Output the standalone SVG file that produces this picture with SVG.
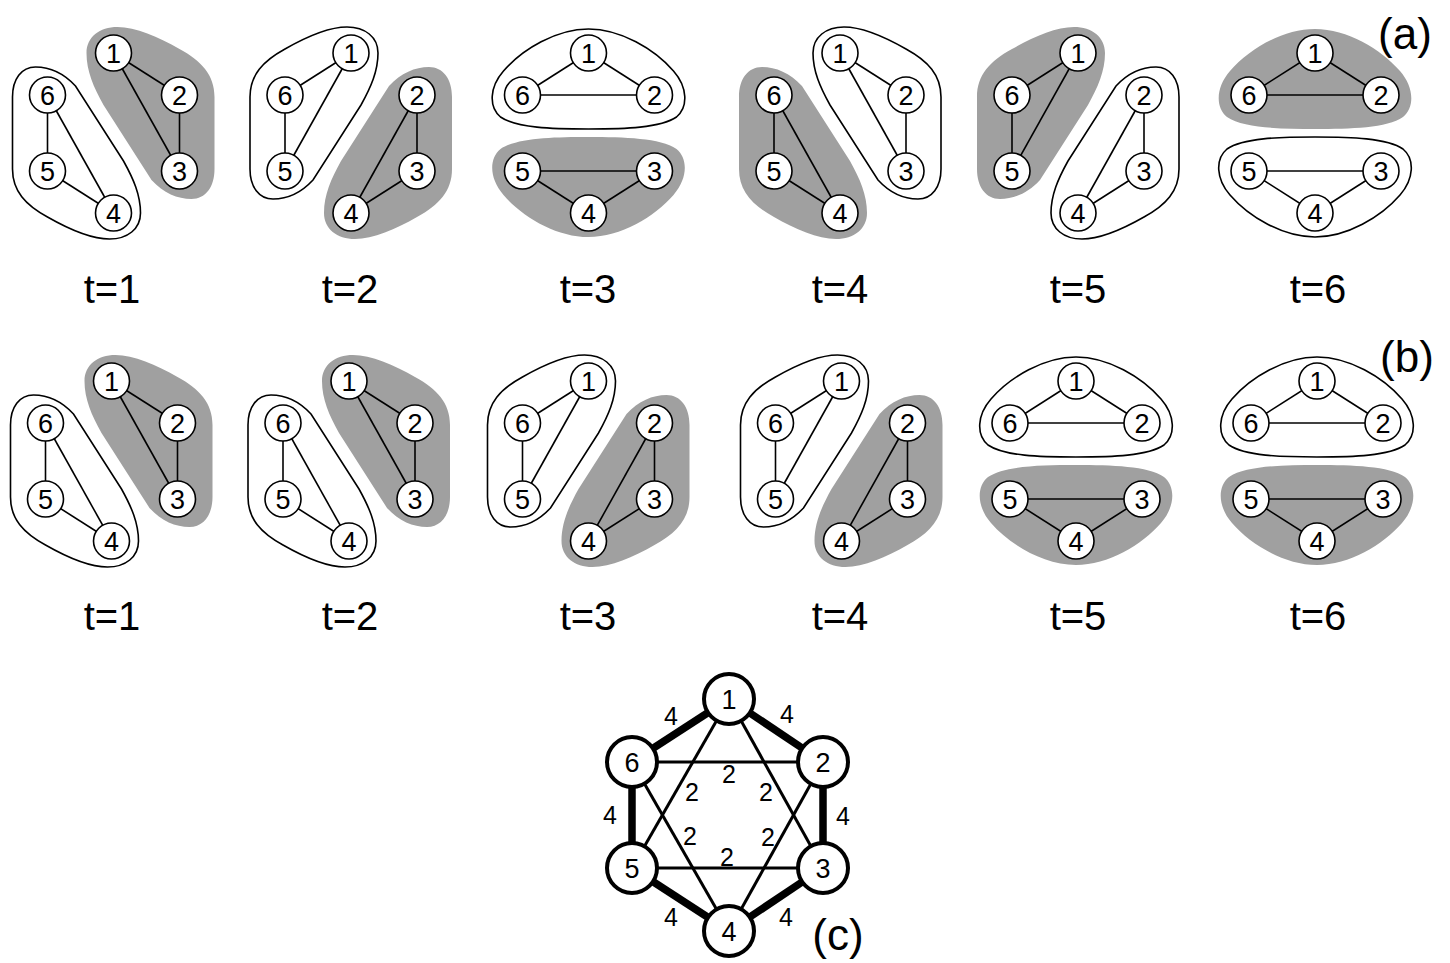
<svg xmlns="http://www.w3.org/2000/svg" xmlns:xlink="http://www.w3.org/1999/xlink" width="1450" height="963" viewBox="0 0 1450 963">
<style>
.w{fill:#fff;stroke:#000;stroke-width:1.6}
.g{fill:#a0a0a0;stroke:none}
.e line{stroke:#000;stroke-width:1.6}
.n circle{fill:#fff;stroke:#000;stroke-width:1.6}
text{font-family:"Liberation Sans",Arial,sans-serif;fill:#000;text-anchor:middle}
.n text{font-size:27px}
.t{font-size:40px}
.p{font-size:44px}
.c circle{fill:#fff;stroke:#000;stroke-width:4}
.c text{font-size:27px}
.tk{stroke:#000;stroke-width:7.5}
.tn{stroke:#000;stroke-width:3}
.lb{font-size:25px}
</style>
<defs>
<path id="bA" d="M -78,-66 C -92,-66 -101,-54 -101,-36 L -101,36 C -101,58 -88,72 -66,84 C -45,96 -22,106 -4,106 C 14,106 27,96 27,80 C 27,62 20,46 10,28 L -38,-47 C -50,-60 -64,-66 -78,-66 Z"/>
<path id="bC" d="M 0,-104 C 32,-104 66,-84 85,-62 C 99,-46 100,-26 88,-16 C 72,-5 36,-4 0,-4 C -36,-4 -72,-5 -88,-16 C -100,-26 -99,-46 -85,-62 C -66,-84 -32,-104 0,-104 Z"/>
</defs>
<rect width="1450" height="963" fill="#fff"/>

<!-- Row (a) -->
<g id="a1" transform="translate(113.5,133)">
<use href="#bA" class="w"/><use href="#bA" class="g" transform="rotate(180)"/>
<g class="e"><line x1="-66" y1="-38" x2="-66" y2="38"/><line x1="-66" y1="-38" x2="0" y2="80"/><line x1="-66" y1="38" x2="0" y2="80"/><line x1="0" y1="-80" x2="66" y2="-38"/><line x1="0" y1="-80" x2="66" y2="38"/><line x1="66" y1="-38" x2="66" y2="38"/></g>
<g id="a1n1" class="n"><circle cx="0" cy="-80" r="18"/><text x="0" y="-70.3">1</text></g>
<g id="a1n2" class="n"><circle cx="66" cy="-38" r="18"/><text x="66" y="-28.3">2</text></g>
<g id="a1n3" class="n"><circle cx="66" cy="38" r="18"/><text x="66" y="47.7">3</text></g>
<g id="a1n4" class="n"><circle cx="0" cy="80" r="18"/><text x="0" y="89.7">4</text></g>
<g id="a1n5" class="n"><circle cx="-66" cy="38" r="18"/><text x="-66" y="47.7">5</text></g>
<g id="a1n6" class="n"><circle cx="-66" cy="-38" r="18"/><text x="-66" y="-28.3">6</text></g>
</g>
<g id="a2" transform="translate(351,133)">
<use href="#bA" class="w" transform="scale(1,-1)"/><use href="#bA" class="g" transform="scale(-1,1)"/>
<g class="e"><line x1="0" y1="-80" x2="-66" y2="-38"/><line x1="0" y1="-80" x2="-66" y2="38"/><line x1="-66" y1="-38" x2="-66" y2="38"/><line x1="66" y1="-38" x2="66" y2="38"/><line x1="66" y1="-38" x2="0" y2="80"/><line x1="66" y1="38" x2="0" y2="80"/></g>
<g id="a2n1" class="n"><circle cx="0" cy="-80" r="18"/><text x="0" y="-70.3">1</text></g>
<g id="a2n2" class="n"><circle cx="66" cy="-38" r="18"/><text x="66" y="-28.3">2</text></g>
<g id="a2n3" class="n"><circle cx="66" cy="38" r="18"/><text x="66" y="47.7">3</text></g>
<g id="a2n4" class="n"><circle cx="0" cy="80" r="18"/><text x="0" y="89.7">4</text></g>
<g id="a2n5" class="n"><circle cx="-66" cy="38" r="18"/><text x="-66" y="47.7">5</text></g>
<g id="a2n6" class="n"><circle cx="-66" cy="-38" r="18"/><text x="-66" y="-28.3">6</text></g>
</g>
<g id="a3" transform="translate(588.5,133)">
<use href="#bC" class="w"/><use href="#bC" class="g" transform="scale(1,-1)"/>
<g class="e"><line x1="0" y1="-80" x2="-66" y2="-38"/><line x1="0" y1="-80" x2="66" y2="-38"/><line x1="-66" y1="-38" x2="66" y2="-38"/><line x1="-66" y1="38" x2="66" y2="38"/><line x1="-66" y1="38" x2="0" y2="80"/><line x1="66" y1="38" x2="0" y2="80"/></g>
<g id="a3n1" class="n"><circle cx="0" cy="-80" r="18"/><text x="0" y="-70.3">1</text></g>
<g id="a3n2" class="n"><circle cx="66" cy="-38" r="18"/><text x="66" y="-28.3">2</text></g>
<g id="a3n3" class="n"><circle cx="66" cy="38" r="18"/><text x="66" y="47.7">3</text></g>
<g id="a3n4" class="n"><circle cx="0" cy="80" r="18"/><text x="0" y="89.7">4</text></g>
<g id="a3n5" class="n"><circle cx="-66" cy="38" r="18"/><text x="-66" y="47.7">5</text></g>
<g id="a3n6" class="n"><circle cx="-66" cy="-38" r="18"/><text x="-66" y="-28.3">6</text></g>
</g>
<g id="a4" transform="translate(840,133)">
<use href="#bA" class="g"/><use href="#bA" class="w" transform="rotate(180)"/>
<g class="e"><line x1="-66" y1="-38" x2="-66" y2="38"/><line x1="-66" y1="-38" x2="0" y2="80"/><line x1="-66" y1="38" x2="0" y2="80"/><line x1="0" y1="-80" x2="66" y2="-38"/><line x1="0" y1="-80" x2="66" y2="38"/><line x1="66" y1="-38" x2="66" y2="38"/></g>
<g id="a4n1" class="n"><circle cx="0" cy="-80" r="18"/><text x="0" y="-70.3">1</text></g>
<g id="a4n2" class="n"><circle cx="66" cy="-38" r="18"/><text x="66" y="-28.3">2</text></g>
<g id="a4n3" class="n"><circle cx="66" cy="38" r="18"/><text x="66" y="47.7">3</text></g>
<g id="a4n4" class="n"><circle cx="0" cy="80" r="18"/><text x="0" y="89.7">4</text></g>
<g id="a4n5" class="n"><circle cx="-66" cy="38" r="18"/><text x="-66" y="47.7">5</text></g>
<g id="a4n6" class="n"><circle cx="-66" cy="-38" r="18"/><text x="-66" y="-28.3">6</text></g>
</g>
<g id="a5" transform="translate(1078,133)">
<use href="#bA" class="g" transform="scale(1,-1)"/><use href="#bA" class="w" transform="scale(-1,1)"/>
<g class="e"><line x1="0" y1="-80" x2="-66" y2="-38"/><line x1="0" y1="-80" x2="-66" y2="38"/><line x1="-66" y1="-38" x2="-66" y2="38"/><line x1="66" y1="-38" x2="66" y2="38"/><line x1="66" y1="-38" x2="0" y2="80"/><line x1="66" y1="38" x2="0" y2="80"/></g>
<g id="a5n1" class="n"><circle cx="0" cy="-80" r="18"/><text x="0" y="-70.3">1</text></g>
<g id="a5n2" class="n"><circle cx="66" cy="-38" r="18"/><text x="66" y="-28.3">2</text></g>
<g id="a5n3" class="n"><circle cx="66" cy="38" r="18"/><text x="66" y="47.7">3</text></g>
<g id="a5n4" class="n"><circle cx="0" cy="80" r="18"/><text x="0" y="89.7">4</text></g>
<g id="a5n5" class="n"><circle cx="-66" cy="38" r="18"/><text x="-66" y="47.7">5</text></g>
<g id="a5n6" class="n"><circle cx="-66" cy="-38" r="18"/><text x="-66" y="-28.3">6</text></g>
</g>
<g id="a6" transform="translate(1315,133)">
<use href="#bC" class="g"/><use href="#bC" class="w" transform="scale(1,-1)"/>
<g class="e"><line x1="0" y1="-80" x2="-66" y2="-38"/><line x1="0" y1="-80" x2="66" y2="-38"/><line x1="-66" y1="-38" x2="66" y2="-38"/><line x1="-66" y1="38" x2="66" y2="38"/><line x1="-66" y1="38" x2="0" y2="80"/><line x1="66" y1="38" x2="0" y2="80"/></g>
<g id="a6n1" class="n"><circle cx="0" cy="-80" r="18"/><text x="0" y="-70.3">1</text></g>
<g id="a6n2" class="n"><circle cx="66" cy="-38" r="18"/><text x="66" y="-28.3">2</text></g>
<g id="a6n3" class="n"><circle cx="66" cy="38" r="18"/><text x="66" y="47.7">3</text></g>
<g id="a6n4" class="n"><circle cx="0" cy="80" r="18"/><text x="0" y="89.7">4</text></g>
<g id="a6n5" class="n"><circle cx="-66" cy="38" r="18"/><text x="-66" y="47.7">5</text></g>
<g id="a6n6" class="n"><circle cx="-66" cy="-38" r="18"/><text x="-66" y="-28.3">6</text></g>
</g>

<!-- Row (b) -->
<g id="b1" transform="translate(111.5,461)">
<use href="#bA" class="w"/><use href="#bA" class="g" transform="rotate(180)"/>
<g class="e"><line x1="-66" y1="-38" x2="-66" y2="38"/><line x1="-66" y1="-38" x2="0" y2="80"/><line x1="-66" y1="38" x2="0" y2="80"/><line x1="0" y1="-80" x2="66" y2="-38"/><line x1="0" y1="-80" x2="66" y2="38"/><line x1="66" y1="-38" x2="66" y2="38"/></g>
<g id="b1n1" class="n"><circle cx="0" cy="-80" r="18"/><text x="0" y="-70.3">1</text></g>
<g id="b1n2" class="n"><circle cx="66" cy="-38" r="18"/><text x="66" y="-28.3">2</text></g>
<g id="b1n3" class="n"><circle cx="66" cy="38" r="18"/><text x="66" y="47.7">3</text></g>
<g id="b1n4" class="n"><circle cx="0" cy="80" r="18"/><text x="0" y="89.7">4</text></g>
<g id="b1n5" class="n"><circle cx="-66" cy="38" r="18"/><text x="-66" y="47.7">5</text></g>
<g id="b1n6" class="n"><circle cx="-66" cy="-38" r="18"/><text x="-66" y="-28.3">6</text></g>
</g>
<g id="b2" transform="translate(349,461)">
<use href="#bA" class="w"/><use href="#bA" class="g" transform="rotate(180)"/>
<g class="e"><line x1="-66" y1="-38" x2="-66" y2="38"/><line x1="-66" y1="-38" x2="0" y2="80"/><line x1="-66" y1="38" x2="0" y2="80"/><line x1="0" y1="-80" x2="66" y2="-38"/><line x1="0" y1="-80" x2="66" y2="38"/><line x1="66" y1="-38" x2="66" y2="38"/></g>
<g id="b2n1" class="n"><circle cx="0" cy="-80" r="18"/><text x="0" y="-70.3">1</text></g>
<g id="b2n2" class="n"><circle cx="66" cy="-38" r="18"/><text x="66" y="-28.3">2</text></g>
<g id="b2n3" class="n"><circle cx="66" cy="38" r="18"/><text x="66" y="47.7">3</text></g>
<g id="b2n4" class="n"><circle cx="0" cy="80" r="18"/><text x="0" y="89.7">4</text></g>
<g id="b2n5" class="n"><circle cx="-66" cy="38" r="18"/><text x="-66" y="47.7">5</text></g>
<g id="b2n6" class="n"><circle cx="-66" cy="-38" r="18"/><text x="-66" y="-28.3">6</text></g>
</g>
<g id="b3" transform="translate(588.5,461)">
<use href="#bA" class="w" transform="scale(1,-1)"/><use href="#bA" class="g" transform="scale(-1,1)"/>
<g class="e"><line x1="0" y1="-80" x2="-66" y2="-38"/><line x1="0" y1="-80" x2="-66" y2="38"/><line x1="-66" y1="-38" x2="-66" y2="38"/><line x1="66" y1="-38" x2="66" y2="38"/><line x1="66" y1="-38" x2="0" y2="80"/><line x1="66" y1="38" x2="0" y2="80"/></g>
<g id="b3n1" class="n"><circle cx="0" cy="-80" r="18"/><text x="0" y="-70.3">1</text></g>
<g id="b3n2" class="n"><circle cx="66" cy="-38" r="18"/><text x="66" y="-28.3">2</text></g>
<g id="b3n3" class="n"><circle cx="66" cy="38" r="18"/><text x="66" y="47.7">3</text></g>
<g id="b3n4" class="n"><circle cx="0" cy="80" r="18"/><text x="0" y="89.7">4</text></g>
<g id="b3n5" class="n"><circle cx="-66" cy="38" r="18"/><text x="-66" y="47.7">5</text></g>
<g id="b3n6" class="n"><circle cx="-66" cy="-38" r="18"/><text x="-66" y="-28.3">6</text></g>
</g>
<g id="b4" transform="translate(841.5,461)">
<use href="#bA" class="w" transform="scale(1,-1)"/><use href="#bA" class="g" transform="scale(-1,1)"/>
<g class="e"><line x1="0" y1="-80" x2="-66" y2="-38"/><line x1="0" y1="-80" x2="-66" y2="38"/><line x1="-66" y1="-38" x2="-66" y2="38"/><line x1="66" y1="-38" x2="66" y2="38"/><line x1="66" y1="-38" x2="0" y2="80"/><line x1="66" y1="38" x2="0" y2="80"/></g>
<g id="b4n1" class="n"><circle cx="0" cy="-80" r="18"/><text x="0" y="-70.3">1</text></g>
<g id="b4n2" class="n"><circle cx="66" cy="-38" r="18"/><text x="66" y="-28.3">2</text></g>
<g id="b4n3" class="n"><circle cx="66" cy="38" r="18"/><text x="66" y="47.7">3</text></g>
<g id="b4n4" class="n"><circle cx="0" cy="80" r="18"/><text x="0" y="89.7">4</text></g>
<g id="b4n5" class="n"><circle cx="-66" cy="38" r="18"/><text x="-66" y="47.7">5</text></g>
<g id="b4n6" class="n"><circle cx="-66" cy="-38" r="18"/><text x="-66" y="-28.3">6</text></g>
</g>
<g id="b5" transform="translate(1076,461)">
<use href="#bC" class="w"/><use href="#bC" class="g" transform="scale(1,-1)"/>
<g class="e"><line x1="0" y1="-80" x2="-66" y2="-38"/><line x1="0" y1="-80" x2="66" y2="-38"/><line x1="-66" y1="-38" x2="66" y2="-38"/><line x1="-66" y1="38" x2="66" y2="38"/><line x1="-66" y1="38" x2="0" y2="80"/><line x1="66" y1="38" x2="0" y2="80"/></g>
<g id="b5n1" class="n"><circle cx="0" cy="-80" r="18"/><text x="0" y="-70.3">1</text></g>
<g id="b5n2" class="n"><circle cx="66" cy="-38" r="18"/><text x="66" y="-28.3">2</text></g>
<g id="b5n3" class="n"><circle cx="66" cy="38" r="18"/><text x="66" y="47.7">3</text></g>
<g id="b5n4" class="n"><circle cx="0" cy="80" r="18"/><text x="0" y="89.7">4</text></g>
<g id="b5n5" class="n"><circle cx="-66" cy="38" r="18"/><text x="-66" y="47.7">5</text></g>
<g id="b5n6" class="n"><circle cx="-66" cy="-38" r="18"/><text x="-66" y="-28.3">6</text></g>
</g>
<g id="b6" transform="translate(1317,461)">
<use href="#bC" class="w"/><use href="#bC" class="g" transform="scale(1,-1)"/>
<g class="e"><line x1="0" y1="-80" x2="-66" y2="-38"/><line x1="0" y1="-80" x2="66" y2="-38"/><line x1="-66" y1="-38" x2="66" y2="-38"/><line x1="-66" y1="38" x2="66" y2="38"/><line x1="-66" y1="38" x2="0" y2="80"/><line x1="66" y1="38" x2="0" y2="80"/></g>
<g id="b6n1" class="n"><circle cx="0" cy="-80" r="18"/><text x="0" y="-70.3">1</text></g>
<g id="b6n2" class="n"><circle cx="66" cy="-38" r="18"/><text x="66" y="-28.3">2</text></g>
<g id="b6n3" class="n"><circle cx="66" cy="38" r="18"/><text x="66" y="47.7">3</text></g>
<g id="b6n4" class="n"><circle cx="0" cy="80" r="18"/><text x="0" y="89.7">4</text></g>
<g id="b6n5" class="n"><circle cx="-66" cy="38" r="18"/><text x="-66" y="47.7">5</text></g>
<g id="b6n6" class="n"><circle cx="-66" cy="-38" r="18"/><text x="-66" y="-28.3">6</text></g>
</g>

<!-- time labels -->
<g id="tlabels" class="t">
<text x="112" y="303">t=1</text><text x="350" y="303">t=2</text><text x="588" y="303">t=3</text><text x="840" y="303">t=4</text><text x="1078" y="303">t=5</text><text x="1318" y="303">t=6</text>
<text x="112" y="630">t=1</text><text x="350" y="630">t=2</text><text x="588" y="630">t=3</text><text x="840" y="630">t=4</text><text x="1078" y="630">t=5</text><text x="1318" y="630">t=6</text>
</g>
<g id="plabels" class="p">
<text x="1405" y="49">(a)</text><text x="1407" y="372">(b)</text><text x="838" y="950">(c)</text>
</g>

<!-- (c) weighted graph -->
<g id="c-edges">
<line class="tn" x1="729" y1="699" x2="823" y2="868"/>
<line class="tn" x1="729" y1="699" x2="632" y2="868"/>
<line class="tn" x1="632" y1="762" x2="823" y2="762"/>
<line class="tn" x1="823" y1="762" x2="729" y2="931"/>
<line class="tn" x1="632" y1="868" x2="823" y2="868"/>
<line class="tn" x1="632" y1="762" x2="729" y2="931"/>
<line class="tk" x1="729" y1="699" x2="823" y2="762"/>
<line class="tk" x1="823" y1="762" x2="823" y2="868"/>
<line class="tk" x1="823" y1="868" x2="729" y2="931"/>
<line class="tk" x1="729" y1="931" x2="632" y2="868"/>
<line class="tk" x1="632" y1="868" x2="632" y2="762"/>
<line class="tk" x1="632" y1="762" x2="729" y2="699"/>
</g>
<g id="c-weights" class="lb">
<text x="671" y="725">4</text><text x="787" y="723">4</text><text x="843" y="825">4</text><text x="786" y="926">4</text><text x="671" y="926">4</text><text x="610" y="824">4</text>
<text x="729" y="783">2</text><text x="692" y="801">2</text><text x="766" y="801">2</text><text x="690" y="845">2</text><text x="768" y="846">2</text><text x="727" y="866">2</text>
</g>
<g id="c1" class="c"><circle cx="729" cy="699" r="25"/><text x="729" y="708.7">1</text></g>
<g id="c2" class="c"><circle cx="823" cy="762" r="25"/><text x="823" y="771.7">2</text></g>
<g id="c3" class="c"><circle cx="823" cy="868" r="25"/><text x="823" y="877.7">3</text></g>
<g id="c4" class="c"><circle cx="729" cy="931" r="25"/><text x="729" y="940.7">4</text></g>
<g id="c5" class="c"><circle cx="632" cy="868" r="25"/><text x="632" y="877.7">5</text></g>
<g id="c6" class="c"><circle cx="632" cy="762" r="25"/><text x="632" y="771.7">6</text></g>
</svg>
